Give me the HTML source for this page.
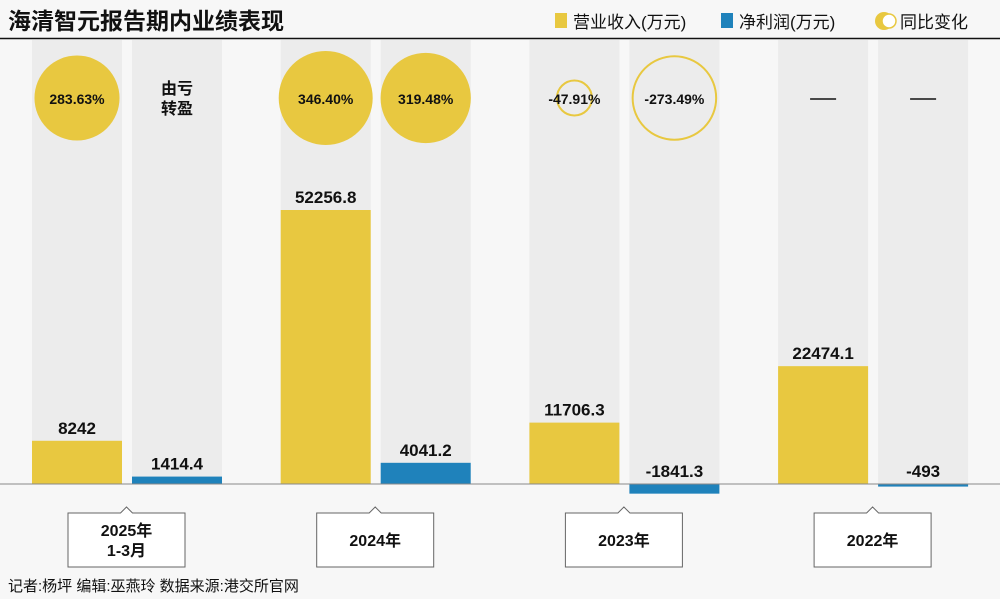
<!DOCTYPE html>
<html><head><meta charset="utf-8"><style>
body{margin:0;background:#f7f7f7;}
svg{display:block;font-family:"Liberation Sans","Noto Sans CJK SC",sans-serif;}
</style></head><body>
<svg id="chart" width="1000" height="599" viewBox="0 0 1000 599">
<rect width="1000" height="599" fill="#f7f7f7"/>
<text x="8" y="29" font-size="23" font-weight="bold" fill="#111">海清智元报告期内业绩表现</text>
<line x1="0" y1="38.5" x2="1000" y2="38.5" stroke="#111" stroke-width="1.5"/>
<g>
<rect x="555" y="13" width="12" height="15" fill="#e8c840"/>
<text x="573" y="28" font-size="17" fill="#111">营业收入(万元)</text>
<rect x="721" y="13" width="12" height="15" fill="#1f82bb"/>
<text x="739" y="28" font-size="17" fill="#111">净利润(万元)</text>
<circle cx="884" cy="21" r="9" fill="#e8c840"/>
<circle cx="889" cy="21" r="7" fill="#fff" stroke="#e8c840" stroke-width="1.5"/>
<text x="900" y="28" font-size="17" fill="#111">同比变化</text>
</g>
<g id="plot"></g>
<text x="8" y="591" font-size="15" fill="#111">记者:杨坪  编辑:巫燕玲  数据来源:港交所官网</text>
</svg>
<script>
const categories = ["2025年\n1-3月", "2024年", "2023年", "2022年"];
const revenue = [8242, 52256.8, 11706.3, 22474.1];
const profit = [1414.4, 4041.2, -1841.3, -493];
const revenueLabels = ["8242", "52256.8", "11706.3", "22474.1"];
const profitLabels = ["1414.4", "4041.2", "-1841.3", "-493"];
const revYoY = [283.63, 346.40, -47.91, null];
const profitYoY = [null, 319.48, -273.49, null];
const revYoYLabels = ["283.63%", "346.40%", "-47.91%", "—"];
const profitYoYLabels = ["由亏\n转盈", "319.48%", "-273.49%", "—"];

const NS = "http://www.w3.org/2000/svg";
const plot = document.getElementById("plot");
const baseY = 484, topY = 40, pxPerUnit = 274 / 52256.8;
const groupX = i => 32 + i * 248.7;
const barW = 90;
const yScale = v => baseY - v * pxPerUnit;
const rScale = v => 47 * Math.sqrt(Math.abs(v) / 346.4);
function el(tag, attrs) { const e = document.createElementNS(NS, tag); for (const k in attrs) e.setAttribute(k, attrs[k]); plot.appendChild(e); return e; }
function txt(x, y, s, size) {
  const lines = s.split("\n");
  const t = el("text", {x: x, "text-anchor": "middle", "font-size": size, "font-weight": "bold", fill: "#111"});
  lines.forEach((l, j) => { const ts = document.createElementNS(NS, "tspan"); ts.setAttribute("x", x); ts.setAttribute("y", y + (j - (lines.length - 1) / 2) * 20); ts.textContent = l; t.appendChild(ts); });
  return t;
}
categories.forEach((c, i) => {
  const x0 = groupX(i), x1 = x0 + 100;
  const bg1 = el("rect", {x: x0, y: topY, width: barW, height: baseY - topY, fill: "#ececec"});
  
  
  const bg2 = el("rect", {x: x1, y: topY, width: barW, height: baseY - topY, fill: "#ececec"});
  
  
  const ry = yScale(Math.max(revenue[i], 0)), rh = Math.abs(yScale(revenue[i]) - baseY);
  const rb = el("rect", {x: x0, y: ry, width: barW, height: rh, fill: "#e8c840"});
  
  
  const rl = txt(x0 + barW / 2, yScale(Math.max(revenue[i], 0)) - 7, revenueLabels[i], 17);
  
  
  const py = yScale(Math.max(profit[i], 0)), ph = Math.max(Math.abs(yScale(profit[i]) - baseY), 2);
  const pb = el("rect", {x: x1, y: py, width: barW, height: ph, fill: "#1f82bb"});
  
  
  const pl = txt(x1 + barW / 2, yScale(Math.max(profit[i], 0)) - 7, profitLabels[i], 17);
  
  
  [[revYoY[i], revYoYLabels[i], x0], [profitYoY[i], profitYoYLabels[i], x1]].forEach(([v, lab, xx]) => {
    const cx = xx + barW / 2, cy = 98;
    if (v !== null) {
      const neg = v < 0;
      const c = el("circle", {cx: cx, cy: cy, r: rScale(v), fill: neg ? "none" : "#e8c840", stroke: "#e8c840", "stroke-width": neg ? 2 : 0});
      
      
    }
    if (lab === "—") {
      const d = el("line", {x1: cx - 13, y1: cy + 1, x2: cx + 13, y2: cy + 1, stroke: "#111", "stroke-width": 1.5});
      
      
    } else {
      const t = txt(cx, cy + 6, lab, lab.indexOf("\n") >= 0 ? 16 : 14);
      
      
    }
  });
  const bx = x0 + 36, bw = 117, cxm = bx + bw / 2;
  const box = el("path", {d: `M${bx} 513 H${cxm - 6} L${cxm} 507 L${cxm + 6} 513 H${bx + bw} V567 H${bx} Z`, fill: "#fff", stroke: "#666", "stroke-width": 1});
  
  
  const ct = txt(cxm, 546, c, 16);
  
  
});
const base = el("line", {x1: 0, y1: baseY, x2: 1000, y2: baseY, stroke: "#888", "stroke-width": 1});


</script>
</body></html>
